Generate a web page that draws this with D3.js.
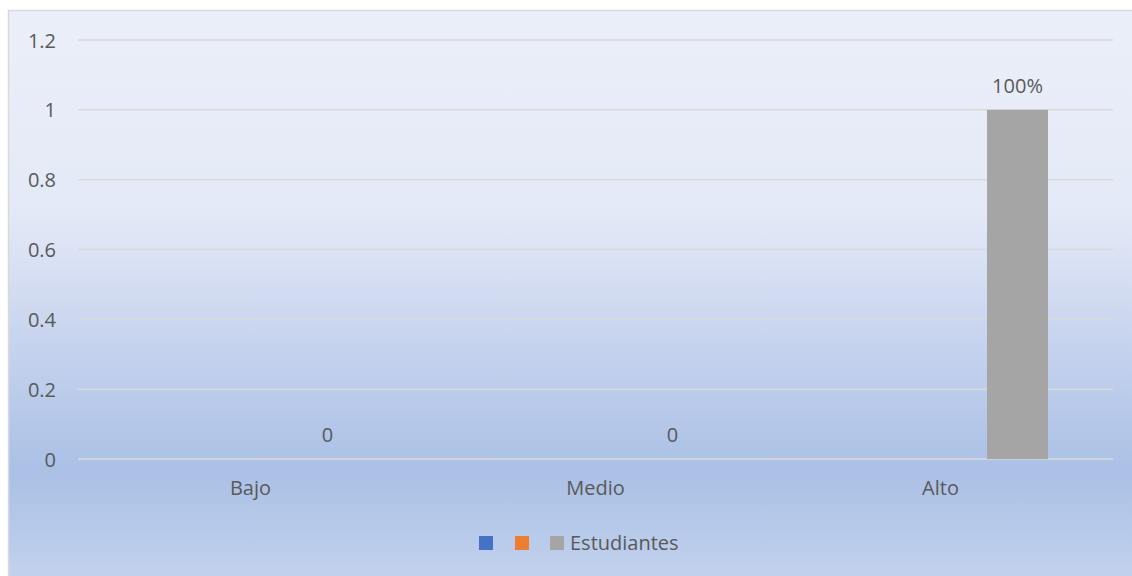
<!DOCTYPE html>
<html>
<head>
<meta charset="utf-8">
<script src="https://cdn.jsdelivr.net/npm/d3@7"></script>
<style>
  html, body { margin: 0; padding: 0; background: #ffffff; }
  svg { display: block; }
  text { font-family: "Open Sans", "Noto Sans", sans-serif; fill: #595959; }
</style>
</head>
<body>
<svg id="chart" width="1132" height="576"></svg>
<script>
const categories = ["Bajo", "Medio", "Alto"];
const seriesNames = ["", "", "Estudiantes"];
const seriesColors = ["#4472c4", "#ed7d31", "#a5a5a5"];
const estudiantes = [0, 0, 1];
const dataLabels = ["0", "0", "100%"];
const yTicks = [0, 0.2, 0.4, 0.6, 0.8, 1, 1.2];
const yTickLabels = ["0", "0.2", "0.4", "0.6", "0.8", "1", "1.2"];

const svg = d3.select("#chart");
const W = 1132, H = 576;
const FS = "20px";

// background gradient
const defs = svg.append("defs");
const grad = defs.append("linearGradient").attr("id", "bg").attr("x1", 0).attr("y1", 0).attr("x2", 0).attr("y2", 1);
[[0, "#ebeff9"], [0.35, "#e4e9f7"], [0.58, "#c6d3ee"], [0.8, "#aac0e5"], [1, "#c4d3ee"]].forEach(s =>
  grad.append("stop").attr("offset", s[0]).attr("stop-color", s[1]));

svg.append("rect").attr("x", 8.5).attr("y", 10.5).attr("width", W).attr("height", H)
  .attr("fill", "url(#bg)").attr("stroke", "#d9d9d9").attr("stroke-width", 1.5);

const plot = { left: 78, right: 1113, top: 40, bottom: 459 };

const x = d3.scaleBand().domain(categories).range([plot.left, plot.right]).paddingInner(0).paddingOuter(0);
const y = d3.scaleLinear().domain([0, 1.2]).range([plot.bottom, plot.top]);

// gridlines
const grid = svg.append("g");
grid.selectAll("line").data(yTicks).join("line")
  .attr("x1", plot.left).attr("x2", plot.right)
  .attr("y1", d => y(d)).attr("y2", d => y(d))
  .attr("stroke", "#d9d9d9").attr("stroke-width", 1.5);

// y axis labels
const yAxis = d3.axisLeft(y).tickValues(yTicks).tickFormat((d, i) => yTickLabels[i]).tickSize(0).tickPadding(0);
const gy = svg.append("g").attr("transform", `translate(56,0)`).call(yAxis);
gy.select(".domain").remove();
gy.selectAll("text").style("font-size", FS).attr("fill", "#595959").attr("dy", "0.35em");

// x axis labels
const xAxis = d3.axisBottom(x).tickSize(0).tickPadding(0);
const gx = svg.append("g").attr("transform", `translate(0,${plot.bottom + 22})`).call(xAxis);
gx.select(".domain").remove();
gx.selectAll("text").style("font-size", FS).attr("fill", "#595959").attr("dy", "0.71em");

// bars: third series of the cluster
const offset = 77;
const barW = 61;
svg.append("g").selectAll("rect").data(estudiantes).join("rect")
  .attr("x", (d, i) => x(categories[i]) + x.bandwidth() / 2 + offset - barW / 2)
  .attr("width", barW)
  .attr("y", d => y(d))
  .attr("height", d => y(0) - y(d))
  .attr("fill", seriesColors[2]);

// data labels
svg.append("g").selectAll("text").data(estudiantes).join("text")
  .attr("x", (d, i) => x(categories[i]) + x.bandwidth() / 2 + offset)
  .attr("y", d => y(d) - 17)
  .attr("text-anchor", "middle")
  .style("font-size", FS)
  .attr("fill", "#404040")
  .text((d, i) => dataLabels[i]);

// legend
const legendX = [479, 515, 550];
const lg = svg.append("g");
seriesNames.forEach((name, i) => {
  lg.append("rect").attr("x", legendX[i]).attr("y", 536).attr("width", 14).attr("height", 14).attr("fill", seriesColors[i]);
  if (name) lg.append("text").attr("x", legendX[i] + 20).attr("y", 550).style("font-size", FS).attr("fill", "#595959").text(name);
});
</script>
</body>
</html>
